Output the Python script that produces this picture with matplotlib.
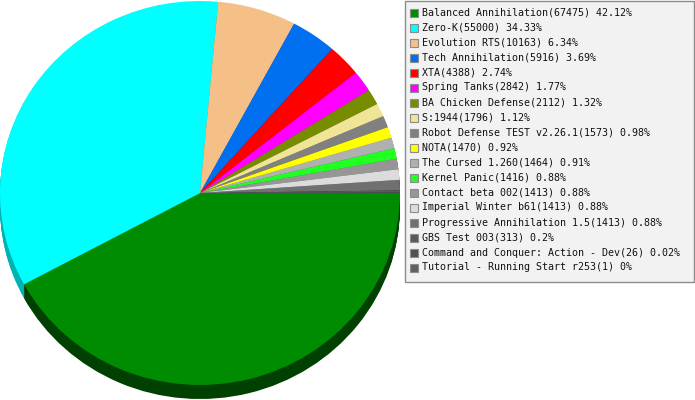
import matplotlib
matplotlib.use("Agg")
import matplotlib.pyplot as plt
from matplotlib.patches import Rectangle
from matplotlib.colors import to_rgb

# mods and number of games played
names = ["Balanced Annihilation", "Zero-K", "Evolution RTS", "Tech Annihilation",
         "XTA", "Spring Tanks", "BA Chicken Defense", "S:1944",
         "Robot Defense TEST v2.26.1", "NOTA", "The Cursed 1.260", "Kernel Panic",
         "Contact beta 002", "Imperial Winter b61", "Progressive Annihilation 1.5",
         "GBS Test 003", "Command and Conquer: Action - Dev",
         "Tutorial - Running Start r253"]
counts = [67475, 55000, 10163, 5916, 4388, 2842, 2112, 1796, 1573, 1470, 1464,
          1416, 1413, 1413, 1413, 313, 26, 1]
colors = ["#008c00", "#00ffff", "#f4c088", "#006ff0", "#ff0000", "#ff00ff",
          "#788c00", "#f0e496", "#808080", "#ffff00", "#b0b0b0", "#22ff22",
          "#969696", "#dcdcdc", "#707070", "#5a5a5a", "#505050", "#606060"]

W, H = 695, 400
DEPTH = 14      # pixel height of the 3d edge
RX, RY = 200, 192


def darker(c, amount=76):
    r, g, b = [v * 255 for v in to_rgb(c)]
    return tuple(max(v - amount, 0) / 255 for v in (r, g, b))


fig = plt.figure(figsize=(W / 100, H / 100), dpi=100)

# pie axes: 1 data unit = RX px horizontally and RY px vertically
d = DEPTH / RY
ax = fig.add_axes([0, (H - 399) / H, 2 * RX / W, (2 * RY + DEPTH) / H])
ax.set_xlim(-1, 1)
ax.set_ylim(-1 - d, 1)

side_cols = [darker(c) for c in colors]
for k in range(DEPTH, 0, -1):
    ax.pie(counts, colors=side_cols, startangle=0, counterclock=False,
           center=(0, -k / RY), radius=1, wedgeprops=dict(linewidth=0))
ax.pie(counts, colors=colors, startangle=0, counterclock=False,
       center=(0, 0), radius=1, wedgeprops=dict(linewidth=0))
ax.set_xlim(-1, 1)
ax.set_ylim(-1 - d, 1)
ax.set_aspect("auto")
ax.axis("off")

# legend drawn in pixel coordinates
lg = fig.add_axes([0, 0, 1, 1])
lg.set_xlim(0, W)
lg.set_ylim(H, 0)
lg.axis("off")
lg.add_patch(Rectangle((404.5, 0.5), 289, 281, facecolor="#f2f2f2",
                       edgecolor="#8c8c8c", linewidth=1))

total = sum(counts)
for i, (n, c, col) in enumerate(zip(names, counts, colors)):
    y = 12.5 + i * 15.0
    lg.add_patch(Rectangle((410, y - 4), 8, 8, facecolor=col,
                           edgecolor="#8c8c8c", linewidth=0.8))
    pct = round(c / total * 100, 2)
    lg.text(422.5, y, f"{n}({c}) {pct:g}%", fontsize=7.2,
            family="DejaVu Sans Mono", va="center", ha="left", color="#111111")

fig.savefig("out.png", dpi=100)
